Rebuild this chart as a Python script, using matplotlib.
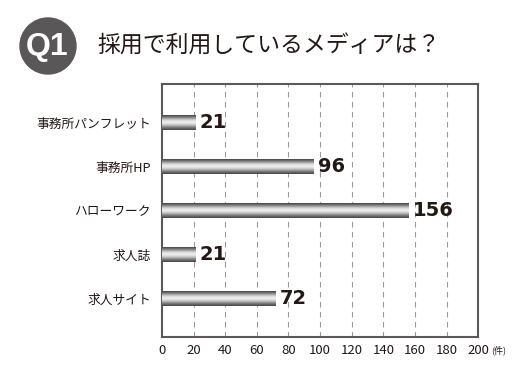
"""
Q1 bar chart: media used for recruiting.
"""

import matplotlib
matplotlib.use('Agg')
import matplotlib.pyplot as plt
from matplotlib.colors import LinearSegmentedColormap
from matplotlib.patches import Circle
import numpy as np

plt.rcParams['font.family'] = ['Noto Sans CJK JP', 'DejaVu Sans']

# data (top to bottom)
categories = ['事務所パンフレット', '事務所HP', 'ハローワーク', '求人誌', '求人サイト']
counts = [21, 96, 156, 21, 72]
xticks = [0, 20, 40, 60, 80, 100, 120, 140, 160, 180, 200]
title = '採用で利用しているメディアは？'

fig = plt.figure(figsize=(5.2, 3.65), dpi=100)
ax = fig.add_axes([0.3115, 0.0767, 0.608, 0.693])

# cylinder-like gray gradient for bars
cmap = LinearSegmentedColormap.from_list(
    'bar', ['#444444', '#8a8a8a', '#d8d8d8', '#f2f2f2', '#c4c4c4', '#7a7a7a', '#444444'])
grad = np.linspace(0, 1, 64).reshape(-1, 1)
bar_h = 0.34

for i, v in enumerate(counts):
    ax.imshow(grad, cmap=cmap, aspect='auto', interpolation='bilinear',
              extent=(0, v, i + bar_h / 2, i - bar_h / 2), zorder=3)
    ax.text(v + 2.5, i, str(v), va='center', ha='left', fontsize=14,
            fontweight='bold', family='DejaVu Sans', color='#231815', zorder=4)

ax.set_xlim(0, 200)
ax.set_ylim(len(categories) - 0.12, -0.88)
ax.set_yticks(range(len(categories)))
ax.set_yticklabels(categories, fontsize=9.2, color='#231815')
ax.set_xticks(xticks)
ax.set_xticklabels([str(t) for t in xticks], fontsize=9.5, color='#231815')
ax.tick_params(axis='x', length=0, pad=5)
ax.tick_params(axis='y', length=0, pad=8)

for x in xticks[1:-1]:
    ax.axvline(x, color='#9a9a9a', lw=0.8, ls=(0, (5, 4)), zorder=1)

for s in ax.spines.values():
    s.set_color('#5a5a5a')
    s.set_linewidth(1.5)

fig.text(491 / 520, 1 - 350 / 365, '(件)', fontsize=6.5, va='center', ha='left',
         color='#231815')

# title badge
fig.add_artist(Circle((0.48, 3.19), 0.28, transform=fig.dpi_scale_trans,
                      color='#595757'))
fig.text(47 / 520, 1 - 47 / 365, 'Q1', color='white', fontsize=23,
         family='Liberation Sans', fontweight='bold', ha='center', va='center')
fig.text(97 / 520, 1 - 46 / 365, title, fontsize=16.5, ha='left', va='center',
         color='#231815')

fig.savefig('out.png', dpi=100)
